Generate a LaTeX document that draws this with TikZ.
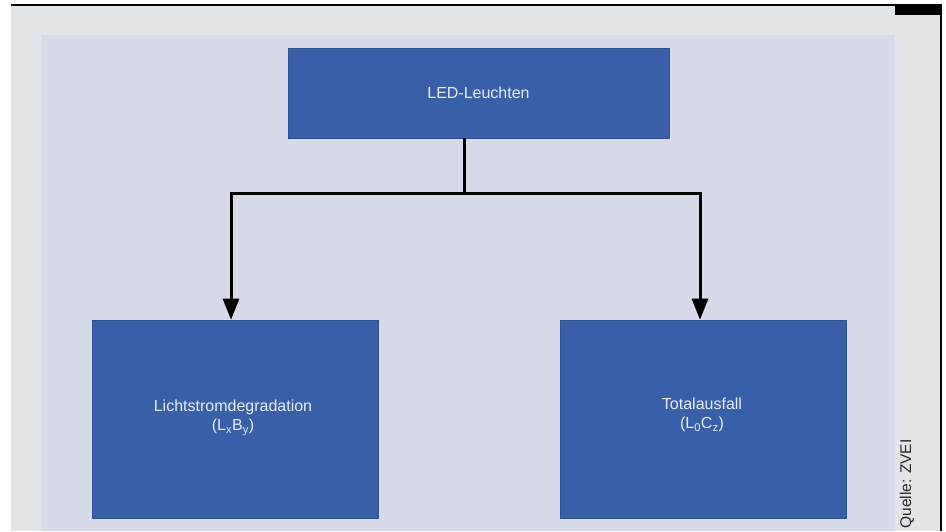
\documentclass[tikz,border=0pt]{standalone}
\usepackage{fontspec}
\setmainfont{Liberation Sans}
\usetikzlibrary{arrows.meta}
\definecolor{outergray}{HTML}{E1E5E8}
\definecolor{panel}{HTML}{D6DAE9}
\definecolor{boxblue}{HTML}{3A5FA9}
\definecolor{boxtext}{HTML}{E8ECF6}
\tikzset{
  blockbox/.style={draw=boxblue!85!black, line width=0.6pt, fill=boxblue, text=boxtext, inner sep=0pt, align=center, font=\fontsize{16}{19}\selectfont},
  connector/.style={line width=3pt, draw=black},
  arrowline/.style={connector, -{Triangle[width=16pt,length=21pt]}}
}
\begin{document}
\begin{tikzpicture}[x=1pt,y=-1pt]
\useasboundingbox (0,0) rectangle (946,531);
\fill[white] (0,0) rectangle (946,531);
\fill[outergray] (11,5) rectangle (941,531);
\fill[panel] (41,35) rectangle (895,531);
\draw[line width=2pt] (11,5) -- (941,5);
\draw[line width=1.5pt] (941,4) -- (941,531);
\fill[black] (895,5) rectangle (941,15);
% boxes
\node[blockbox, minimum width=381pt, minimum height=90pt] (top) at (478.5,93) {LED-Leuchten};
\node[blockbox, minimum width=286pt, minimum height=198pt] (left) at (235,419) {};
\node[blockbox, minimum width=286pt, minimum height=198pt] (right) at (703,419) {};
\node[text=boxtext, align=center, font=\fontsize{16}{19}\selectfont] (ltext) at (233,418) {Lichtstromdegradation\\(L\textsubscript{x}B\textsubscript{y})};
\node[text=boxtext, align=center, font=\fontsize{16}{19}\selectfont] (rtext) at (702,415) {Totalausfall\\(L\textsubscript{0}C\textsubscript{z})};
% connectors
\coordinate (junction) at (464,193);
\coordinate (lcorner) at (231,193);
\coordinate (rcorner) at (700,193);
\draw[connector] (top.south -| junction) -- (junction);
\draw[arrowline] (junction) -- (lcorner) -- (lcorner |- left.north);
\draw[arrowline] (junction) -- (rcorner) -- (rcorner |- right.north);
% source
\node[rotate=90, inner sep=1pt, font=\fontsize{15.5}{18}\selectfont, text=black!85] (src) at (907,484) {Quelle: ZVEI};
\end{tikzpicture}
\end{document}
